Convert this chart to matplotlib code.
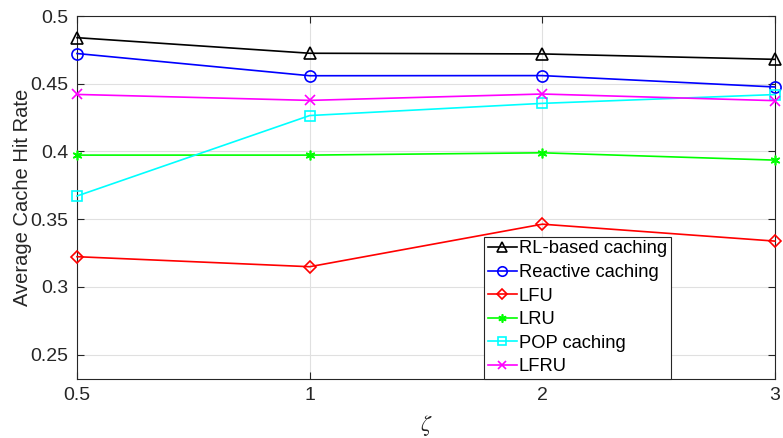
import matplotlib.pyplot as plt

zeta_labels = ['0.5', '1', '2', '3']

rl_based = [0.484, 0.4725, 0.472, 0.468]
reactive = [0.4723, 0.4559, 0.456, 0.4476]
lfu = [0.3223, 0.3149, 0.3463, 0.3338]
lru = [0.3973, 0.3973, 0.399, 0.3936]
pop = [0.3671, 0.4265, 0.4355, 0.442]
lfru = [0.4421, 0.4377, 0.4424, 0.4375]

plt.rcParams['font.family'] = ['Liberation Sans', 'DejaVu Sans']
plt.rcParams['mathtext.fontset'] = 'stix'

fig = plt.figure(figsize=(7.83, 4.38), dpi=100)
ax = fig.add_axes([77 / 783, 1 - 379 / 438, (775 - 77) / 783, (379 - 16) / 438])

x = list(range(len(zeta_labels)))
series = [
    (rl_based, 'k', '^', 8, 'RL-based caching'),
    (reactive, '#0000ff', 'o', 8, 'Reactive caching'),
    (lfu, '#ff0000', 'D', 6.5, 'LFU'),
    (lru, '#00ff00', (6, 2, 0), 7, 'LRU'),
    (pop, '#00ffff', 's', 7, 'POP caching'),
    (lfru, '#ff00ff', 'x', 7, 'LFRU'),
]
for vals, col, mk, ms, lab in series:
    ax.plot(x, vals, color=col, marker=mk, markerfacecolor='none',
            markeredgecolor=col, markersize=ms, linewidth=1.2,
            markeredgewidth=1.2, label=lab, clip_on=False, zorder=3)

ax.set_xlim(0, 3)
ax.set_ylim(0.232, 0.5)
ax.set_xticks(x)
ax.set_xticklabels(zeta_labels)
ax.set_yticks([0.25, 0.3, 0.35, 0.4, 0.45, 0.5])
ax.set_yticklabels(['0.25', '0.3', '0.35', '0.4', '0.45', '0.5'])
ax.tick_params(direction='in', top=True, right=True, labelsize=14,
               colors='#262626', length=5, width=0.8, pad=6)
ax.grid(True, color='#e0e0e0', linewidth=0.8)
ax.set_axisbelow(True)
for s in ax.spines.values():
    s.set_color('#262626')
    s.set_linewidth(0.8)

ax.set_ylabel('Average Cache Hit Rate', fontsize=14.5, color='#262626')
ax.yaxis.set_label_coords(-0.065, 0.5)
ax.set_xlabel(r'$\zeta$', fontsize=16, color='#262626')
ax.xaxis.set_label_coords(0.5, -0.095)

leg = ax.legend(loc='lower left', bbox_to_anchor=((484 - 77) / 698, 0),
                fontsize=13.2, frameon=True, fancybox=False, framealpha=1,
                edgecolor='#262626', borderpad=0.2, labelspacing=0.36,
                handlelength=1.6, handletextpad=0.1, borderaxespad=0,
                markerscale=0.85)
leg.get_frame().set_linewidth(0.8)

fig.savefig('out.png', dpi=100)
